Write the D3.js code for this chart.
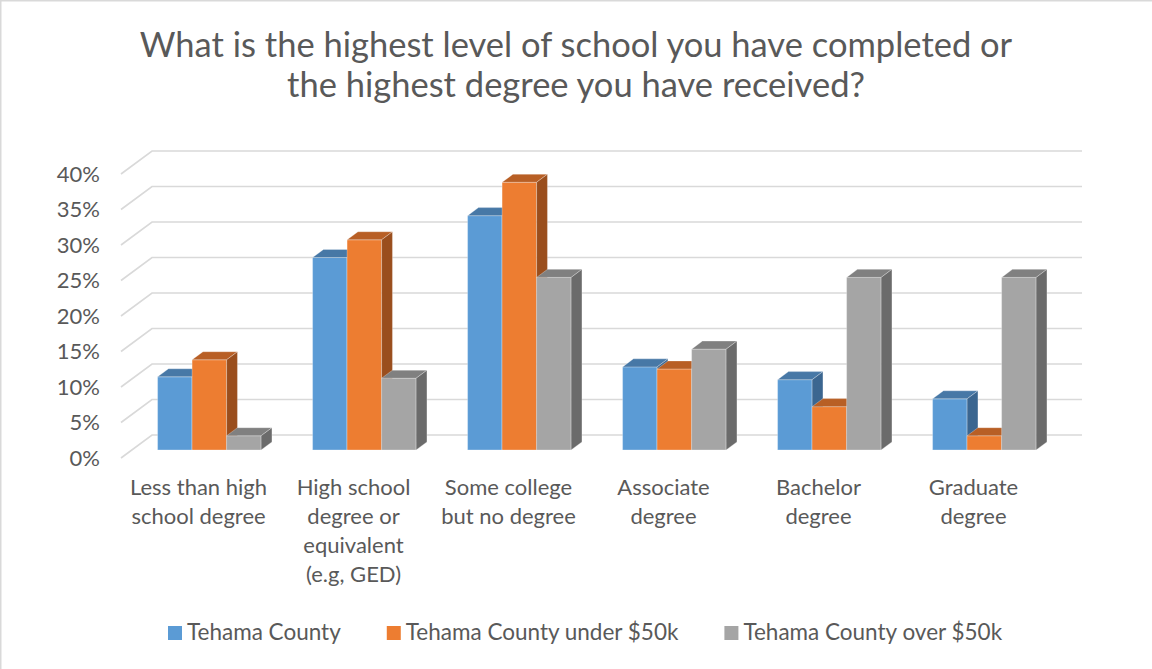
<!DOCTYPE html>
<html>
<head>
<meta charset="utf-8">
<script src="https://cdn.jsdelivr.net/npm/d3@7"></script>
<style>
  html, body { margin: 0; padding: 0; background: #fff; }
  svg { display: block; }
  text { font-family: Lato, "Open Sans", sans-serif; fill: #595959; }
</style>
</head>
<body>
<svg id="chart" width="1152" height="669"></svg>
<script>
// ---- data ----
const titleLines = ["What is the highest level of school you have completed or", "the highest degree you have received?"];
const categories = [
  ["Less than high", "school degree"],
  ["High school", "degree or", "equivalent", "(e.g, GED)"],
  ["Some college", "but no degree"],
  ["Associate", "degree"],
  ["Bachelor", "degree"],
  ["Graduate", "degree"]
];
const seriesNames = ["Tehama County", "Tehama County under $50k", "Tehama County over $50k"];
const tehama   = [10.3, 27.1, 33.0, 11.7, 9.9, 7.2];
const under50k = [12.7, 29.6, 37.7, 11.4, 6.1, 2.0];
const over50k  = [2.0, 10.1, 24.3, 14.2, 24.3, 24.3];
const yTicks = [0, 5, 10, 15, 20, 25, 30, 35, 40];
const tickLabels = ["0%", "5%", "10%", "15%", "20%", "25%", "30%", "35%", "40%"];

const seriesValues = [tehama, under50k, over50k];
const faceColors = ["#5B9BD5", "#ED7D31", "#A5A5A5"];
const topColors  = ["#4778a6", "#b85f25", "#808080"];
const sideColors = ["#3b6690", "#9a4e1d", "#6b6b6b"];

// ---- layout ----
const svg = d3.select("#chart");
const depth = { dx: 31, dy: -23 };          // full floor depth (front plane -> back wall)
const barFrontT = 0.35, barDepthT = 0.35;    // bars sit in the middle of the depth

const x = d3.scaleBand().domain(d3.range(categories.length)).range([121, 1051]).padding(0);
const bw = x.bandwidth();
const groupW = 103.5;
const xs = d3.scaleBand().domain(d3.range(seriesNames.length))
  .range([(bw - groupW) / 2, (bw + groupW) / 2]).padding(0);
const y = d3.scaleLinear().domain([0, 40]).range([458, 174]);

// border
svg.append("rect").attr("x", 0.75).attr("y", 0.75).attr("width", 1200).attr("height", 700)
  .attr("fill", "none").attr("stroke", "#d9d9d9").attr("stroke-width", 1.5);

// title
svg.append("g").selectAll("text").data(titleLines).join("text")
  .attr("x", 576).attr("y", (d, i) => 57 + i * 40)
  .attr("text-anchor", "middle").attr("font-size", 34.5).attr("font-weight", 400)
  .text(d => d);

// gridlines (side wall diagonal + back wall)
const x0 = x.range()[0], x1 = x.range()[1];
const grid = svg.append("g").attr("fill", "none").attr("stroke", "#d9d9d9").attr("stroke-width", 1.6);
grid.selectAll("path").data(yTicks).join("path")
  .attr("d", v => {
    const yf = y(v);
    return d3.line()([[x0, yf], [x0 + depth.dx, yf + depth.dy], [x1 + depth.dx, yf + depth.dy]]);
  });

// y tick labels
svg.append("g").selectAll("text").data(yTicks).join("text")
  .attr("x", 100).attr("y", v => y(v)).attr("dy", "0.35em")
  .attr("text-anchor", "end").attr("font-size", 22)
  .text((v, i) => tickLabels[i]);

// bars
const offX = depth.dx * barFrontT, offY = depth.dy * barFrontT;
const bdx = depth.dx * barDepthT, bdy = depth.dy * barDepthT;
const bars = [];
categories.forEach((c, ci) => {
  seriesValues.forEach((vals, si) => {
    bars.push({ ci, si, v: vals[ci] });
  });
});
const barG = svg.append("g");
bars.forEach(b => {
  const left = x(b.ci) + xs(b.si) + offX;
  const right = left + xs.bandwidth();
  const bottom = y(0) + offY;
  const top = y(b.v) + offY;
  const g = barG.append("g");
  g.append("path").attr("fill", faceColors[b.si])
    .attr("d", d3.line()([[left, bottom], [left, top], [right, top], [right, bottom]]) + "Z");
  g.append("path").attr("fill", topColors[b.si])
    .attr("d", d3.line()([[left, top], [left + bdx, top + bdy], [right + bdx, top + bdy], [right, top]]) + "Z");
  g.append("path").attr("fill", sideColors[b.si])
    .attr("d", d3.line()([[right, top], [right + bdx, top + bdy], [right + bdx, bottom + bdy], [right, bottom]]) + "Z");
  g.selectAll("path").attr("stroke", "rgba(255,255,255,0.35)").attr("stroke-width", 0.8).attr("stroke-linejoin", "round");
});

// category labels
const catG = svg.append("g");
categories.forEach((lines, ci) => {
  catG.append("text")
    .attr("x", x(ci) + bw / 2).attr("y", 495)
    .attr("text-anchor", "middle").attr("font-size", 22)
    .selectAll("tspan").data(lines).join("tspan")
    .attr("x", x(ci) + bw / 2).attr("dy", (d, i) => i === 0 ? 0 : 29)
    .text(d => d);
});

// legend
const legG = svg.append("g");
let lx = 168;
seriesNames.forEach((name, si) => {
  legG.append("rect").attr("x", lx).attr("y", 626).attr("width", 14).attr("height", 14)
    .attr("fill", faceColors[si]);
  const t = legG.append("text").attr("x", lx + 19).attr("y", 640).attr("font-size", 22.5).text(name);
  lx += 19 + t.node().getComputedTextLength() + 46;
});
</script>
</body>
</html>
